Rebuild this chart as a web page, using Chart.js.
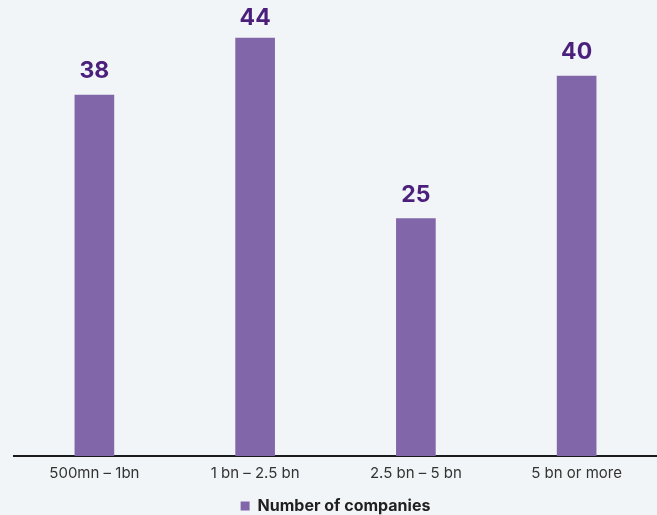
<!DOCTYPE html>
<html>
<head>
<meta charset="utf-8">
<script src="https://cdn.jsdelivr.net/npm/chart.js@4"></script>
<style>
  html, body { margin: 0; padding: 0; background: #f2f5f7; }
  #wrap { width: 657px; height: 515px; }
</style>
</head>
<body>
<div id="wrap"><canvas id="c" width="657" height="515"></canvas></div>
<script>
const categories = ["500mn – 1bn", "1 bn – 2.5 bn", "2.5 bn – 5 bn", "5 bn or more"];
const companies = [38, 44, 25, 40];
const seriesName = "Number of companies";

const barColor = "#8166aa";
const labelColor = "#4b1f7c";

const valueLabels = {
  id: "valueLabels",
  afterDatasetsDraw(chart) {
    const ctx = chart.ctx;
    const meta = chart.getDatasetMeta(0);
    ctx.save();
    ctx.font = "bold 23px Inter, 'Open Sans', sans-serif";
    ctx.fillStyle = labelColor;
    ctx.textAlign = "center";
    ctx.textBaseline = "bottom";
    meta.data.forEach((bar, i) => {
      const y = Math.max(bar.y - 12, 30);
      ctx.fillText(String(chart.data.datasets[0].data[i]), bar.x, y);
    });
    ctx.restore();
  }
};

new Chart(document.getElementById("c"), {
  type: "bar",
  data: {
    labels: categories,
    datasets: [{
      label: seriesName,
      data: companies,
      backgroundColor: barColor,
      borderWidth: 0,
      barThickness: 39
    }]
  },
  options: {
    responsive: false,
    animation: false,
    layout: { padding: { left: 14, right: 0, top: 0, bottom: -9 } },
    plugins: {
      tooltip: { enabled: false },
      legend: {
        position: "bottom",
        labels: {
          boxWidth: 9,
          boxHeight: 9,
          padding: 3,
          color: "#1f1f1f",
          font: { family: "Inter, 'Open Sans', sans-serif", size: 16, weight: "bold" }
        }
      }
    },
    scales: {
      x: {
        grid: { display: false, drawTicks: false },
        border: { display: true, color: "#1a1a1a", width: 2 },
        ticks: {
          color: "#333333",
          padding: 8,
          font: { family: "Inter, 'Open Sans', sans-serif", size: 15 }
        },
        afterFit(scale) { scale.height = 39; }
      },
      y: {
        display: false,
        min: 0,
        max: 48
      }
    }
  },
  plugins: [valueLabels]
});
</script>
</body>
</html>
